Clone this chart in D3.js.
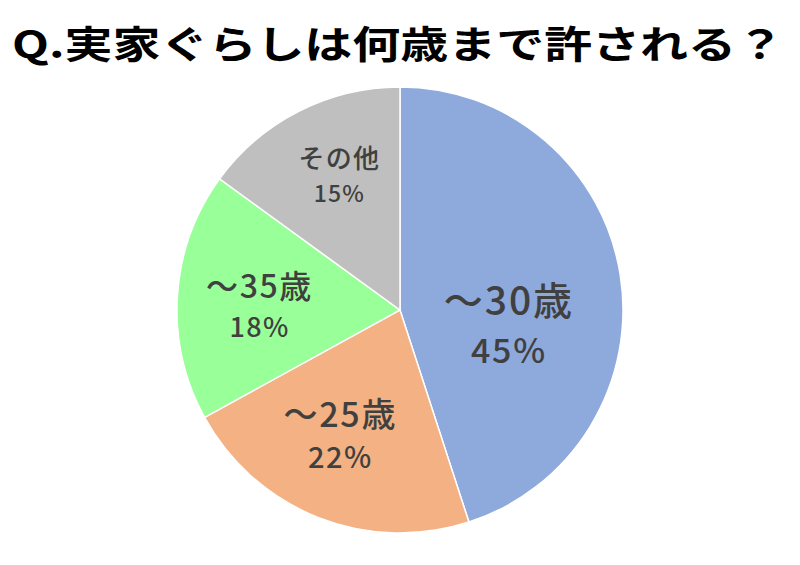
<!DOCTYPE html>
<html>
<head>
<meta charset="utf-8">
<script src="https://cdn.jsdelivr.net/npm/d3@7"></script>
<style>
  body { margin: 0; background: #fff; }
  text { font-family: "Noto Sans CJK JP", "Noto Sans", sans-serif; }
</style>
</head>
<body>
<script>
// data
const categories = ["～30歳", "～25歳", "～35歳", "その他"];
const shares = [45, 22, 18, 15];
const colours = ["#8EA9DB", "#F4B183", "#99FF99", "#BFBFBF"];
const title = "Q.実家ぐらしは何歳まで許される？";

const width = 800, height = 565;
const cx = 400, cy = 310, radius = 223;

// label placement per slice: radius, angle nudge (deg), font sizes, line gap
const labelStyle = [
  { r: 109, da: 11.6, name: 39, pct: 34, gap: 48 },
  { r: 131, da: 5.5, name: 34, pct: 29, gap: 41 },
  { r: 141, da: 1.3, name: 32, pct: 27, gap: 39 },
  { r: 154, da: 3.8, name: 26, pct: 23, gap: 34 }
];

const svg = d3.select("body").append("svg")
    .attr("width", width)
    .attr("height", height);

svg.append("text")
    .attr("x", 398)
    .attr("y", 58)
    .attr("text-anchor", "middle")
    .attr("font-size", 38)
    .attr("font-weight", "bold")
    .attr("textLength", 772)
    .attr("lengthAdjust", "spacingAndGlyphs")
    .text(title);

const pie = d3.pie().sort(null).value(d => d)(shares);
const arc = d3.arc().innerRadius(0).outerRadius(radius);

const g = svg.append("g").attr("transform", `translate(${cx},${cy})`);

g.selectAll("path")
  .data(pie)
  .join("path")
    .attr("d", arc)
    .attr("fill", (d, i) => colours[i])
    .attr("stroke", "#fff")
    .attr("stroke-width", 1.5);

const labels = g.selectAll("g.lbl")
  .data(pie)
  .join("g")
    .attr("class", "lbl")
    .attr("transform", (d, i) => {
      const s = labelStyle[i];
      const a = (d.startAngle + d.endAngle) / 2 + s.da * Math.PI / 180;
      return `translate(${s.r * Math.sin(a)},${-s.r * Math.cos(a)})`;
    });

labels.append("text")
    .attr("text-anchor", "middle")
    .attr("font-size", (d, i) => labelStyle[i].name)
    .attr("font-weight", 500)
    .attr("letter-spacing", (d, i) => labelStyle[i].name * 0.05)
    .attr("fill", "#404040")
    .text((d, i) => categories[i]);

labels.append("text")
    .attr("text-anchor", "middle")
    .attr("y", (d, i) => labelStyle[i].gap)
    .attr("font-size", (d, i) => labelStyle[i].pct)
    .attr("font-weight", 500)
    .attr("letter-spacing", (d, i) => labelStyle[i].pct * 0.05)
    .attr("fill", "#404040")
    .text(d => d.data + "%");
</script>
</body>
</html>
